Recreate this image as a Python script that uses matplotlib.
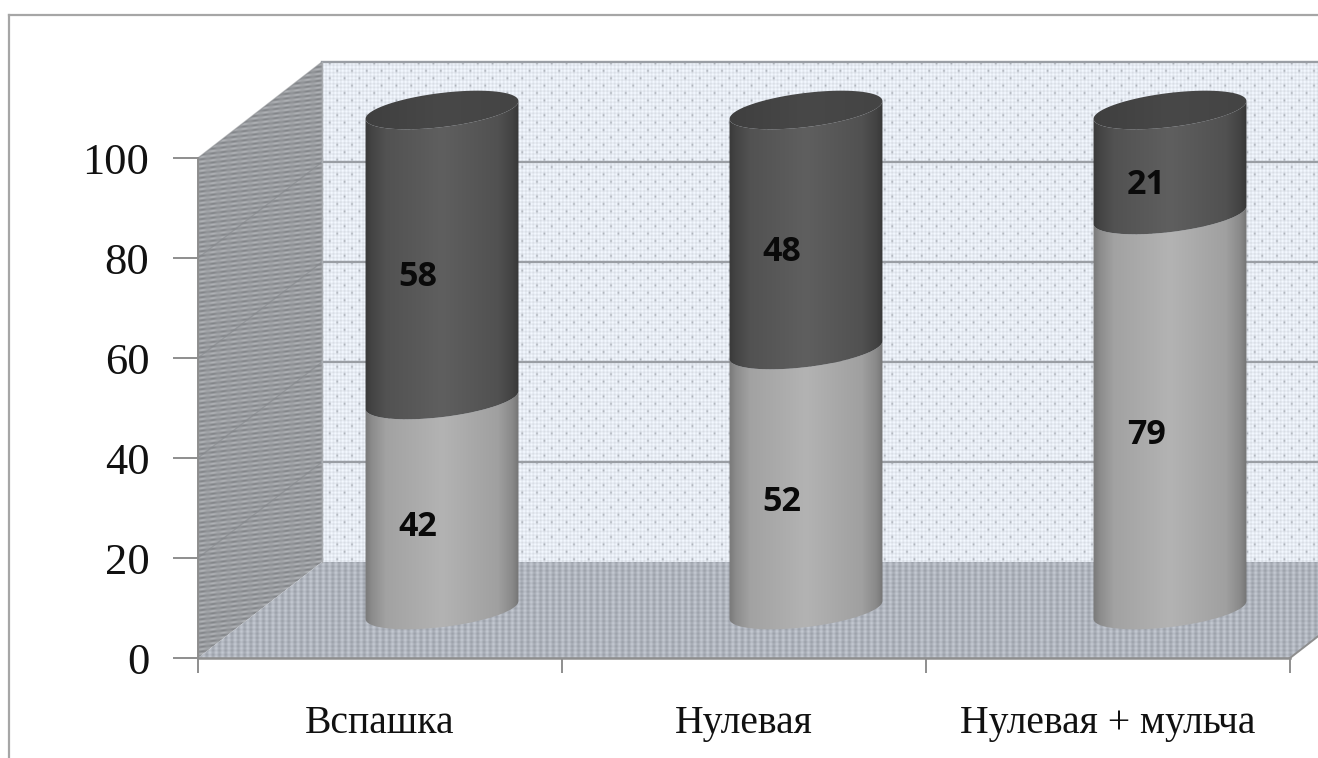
import numpy as np
import matplotlib
matplotlib.use("Agg")
import matplotlib.pyplot as plt
from matplotlib.lines import Line2D
from matplotlib.patches import PathPatch, Polygon
from matplotlib.path import Path

categories = ["Вспашка", "Нулевая", "Нулевая + мульча"]
lower_values = [42, 52, 79]
upper_values = [58, 48, 21]
y_ticks = [0, 20, 40, 60, 80, 100]

FIG_W, FIG_H = 1318, 758
LEFT, BOTTOM, RIGHT, TOP = 198, 658, 1290, 158
PX_X = (RIGHT - LEFT) / len(categories)  # pixels per category
PX_Y = (BOTTOM - TOP) / 100  # pixels per percent
DEPTH_X = 124 / PX_X
DEPTH_Y = 96 / PX_Y

RADIUS = 77
MINOR = 17
TILT = np.radians(7)

LOWER_STOPS = [0.0, 0.05, 0.14, 0.5, 0.86, 0.95, 1.0], ["#767676", "#8c8c8c", "#a2a2a2", "#b3b3b3", "#a0a0a0", "#8a8a8a", "#727272"]
UPPER_STOPS = [0.0, 0.05, 0.14, 0.5, 0.86, 0.95, 1.0], ["#383838", "#444444", "#525252", "#5f5f5f", "#515151", "#434343", "#363636"]
CAP_STOPS = [0.0, 0.5, 1.0], ["#3f3f3f", "#484848", "#444444"]
GRID = "#9a9ea4"
AXIS = "#8e8e8e"


def hex_ramp(stops, n=256):
    pos, colors = stops
    rgb = np.array([matplotlib.colors.to_rgb(c) for c in colors])
    t = np.linspace(0, 1, n)
    return np.stack([np.interp(t, pos, rgb[:, i]) for i in range(3)], axis=-1)[None, :, :]


def wall_texture(kind):
    yy, xx = np.mgrid[0:FIG_H, 0:FIG_W].astype(float)
    if kind == "back":
        lattice = np.sin(2 * np.pi * (xx + yy) / 7.4) * np.sin(2 * np.pi * (xx - yy) / 7.4)
        dots = np.clip(np.sin(2 * np.pi * xx / 14.8) * np.sin(2 * np.pi * yy / 14.8), 0, 1) ** 8
        base = np.array([0.905, 0.925, 0.955])
        img = base[None, None, :] + 0.055 * lattice[..., None] - 0.22 * dots[..., None]
    elif kind == "side":
        rows = np.sin(2 * np.pi * (yy + 0.12 * xx) / 4.6)
        cols = np.sin(2 * np.pi * xx / 10.5)
        base = np.array([0.60, 0.61, 0.625])
        img = base[None, None, :] + 0.06 * rows[..., None] + 0.03 * (rows * cols)[..., None]
    else:
        cols = np.sin(2 * np.pi * xx / 6.3)
        rows = np.sin(2 * np.pi * yy / 4.2)
        base = np.array([0.69, 0.71, 0.745])
        img = base[None, None, :] + 0.05 * cols[..., None] + 0.025 * rows[..., None]
    return np.clip(img, 0, 1)


def lower_arc(cx, cy, n=60):
    # front edge of a tilted ellipse, left to right
    t0 = np.arctan2(-MINOR * np.sin(TILT), RADIUS * np.cos(TILT))
    t = np.linspace(t0 + np.pi, t0 + 2 * np.pi, n)
    dx = RADIUS * np.cos(t) * np.cos(TILT) - MINOR * np.sin(t) * np.sin(TILT)
    dy = RADIUS * np.cos(t) * np.sin(TILT) + MINOR * np.sin(t) * np.cos(TILT)
    return cx + dx / PX_X, cy + dy / PX_Y


def full_ellipse(cx, cy, n=120):
    t = np.linspace(0, 2 * np.pi, n)
    dx = RADIUS * np.cos(t) * np.cos(TILT) - MINOR * np.sin(t) * np.sin(TILT)
    dy = RADIUS * np.cos(t) * np.sin(TILT) + MINOR * np.sin(t) * np.cos(TILT)
    return cx + dx / PX_X, cy + dy / PX_Y


def shaded(ax, xs, ys, ramp, extent):
    patch = PathPatch(Path(np.column_stack([xs, ys])), transform=ax.transData, fc="none", ec="none")
    ax.add_patch(patch)
    im = ax.imshow(ramp, extent=extent, aspect="auto", interpolation="bilinear", zorder=4)
    im.set_clip_path(patch)
    im.set_clip_box(ax.figure.bbox)


def draw_segment(ax, cx, y0, y1, stops):
    x_a, y_a = lower_arc(cx, y0)
    x_b, y_b = lower_arc(cx, y1)
    xs = np.r_[x_a, x_b[::-1]]
    ys = np.r_[y_a, y_b[::-1]]
    half = RADIUS * 1.01 / PX_X
    shaded(ax, xs, ys, hex_ramp(stops), (cx - half, cx + half, y0 - 10, y1 + 10))


plt.rcParams["font.family"] = ["Liberation Serif", "DejaVu Serif"]

fig = plt.figure(figsize=(FIG_W / 100, FIG_H / 100), dpi=100, facecolor="white")
ax = fig.add_axes([LEFT / FIG_W, (FIG_H - BOTTOM) / FIG_H, (RIGHT - LEFT) / FIG_W, (BOTTOM - TOP) / FIG_H])
ax.patch.set_visible(False)
ax.set_autoscale_on(False)
ax.set_xlim(0, len(categories))
ax.set_ylim(0, 100)

# outer chart frame
for xy in (([9, 9], [FIG_H, 15]), ([9, FIG_W], [15, 15])):
    fig.add_artist(Line2D(np.array(xy[0]) / FIG_W, 1 - np.array(xy[1]) / FIG_H, color="#a6a6a6", lw=1.6))

# extent of a full-figure texture in data coordinates
full_extent = (-LEFT / PX_X, (FIG_W - LEFT) / PX_X, (BOTTOM - FIG_H) / PX_Y, BOTTOM / PX_Y)
n = len(categories)
walls = {
    "back": [(DEPTH_X, DEPTH_Y), (n + DEPTH_X, DEPTH_Y), (n + DEPTH_X, 100 + DEPTH_Y), (DEPTH_X, 100 + DEPTH_Y)],
    "side": [(0, 0), (DEPTH_X, DEPTH_Y), (DEPTH_X, 100 + DEPTH_Y), (0, 100)],
    "floor": [(0, 0), (n, 0), (n + DEPTH_X, DEPTH_Y), (DEPTH_X, DEPTH_Y)],
}
for kind, corners in walls.items():
    poly = Polygon(corners, closed=True, fc="none", ec="none", transform=ax.transData)
    ax.add_patch(poly)
    im = ax.imshow(wall_texture(kind), extent=full_extent, aspect="auto", interpolation="bilinear", zorder=1)
    im.set_clip_path(poly)
    im.set_clip_box(fig.bbox)

# gridlines run across the side wall and along the back wall
for v in y_ticks[1:]:
    ax.plot([0, DEPTH_X], [v, v + DEPTH_Y], color="#85888c", lw=1.0, alpha=0.55, zorder=2, clip_on=False)
    ax.plot([DEPTH_X, n + DEPTH_X], [v + DEPTH_Y, v + DEPTH_Y], color=GRID, lw=1.7, zorder=2, clip_on=False)
ax.plot([DEPTH_X, DEPTH_X], [DEPTH_Y, 100 + DEPTH_Y], color="#a9acb0", lw=1.0, zorder=2, clip_on=False)
ax.plot([0, n], [0, 0], color=AXIS, lw=1.8, zorder=3, clip_on=False)
ax.plot([n, n + DEPTH_X], [0, DEPTH_Y], color=AXIS, lw=1.4, zorder=3, clip_on=False)

# cylinders
for i, (low, up) in enumerate(zip(lower_values, upper_values)):
    cx = i + 0.5 + DEPTH_X / 2
    base = DEPTH_Y / 2
    draw_segment(ax, cx, base, base + low, LOWER_STOPS)
    draw_segment(ax, cx, base + low, base + low + up, UPPER_STOPS)
    x_c, y_c = full_ellipse(cx, base + low + up)
    half = RADIUS * 1.01 / PX_X
    shaded(ax, x_c, y_c, hex_ramp(CAP_STOPS), (cx - half, cx + half, base + low + up - 6, base + low + up + 6))

    label_x = cx - 24 / PX_X
    for start, val in ((base, low), (base + low, up)):
        ax.text(label_x, start + val / 2 - 22 / PX_Y, str(val), ha="center", va="center",
                family="Open Sans", fontweight="bold", fontsize=24.5, color="#0a0a0a", zorder=6)

ax.spines[["top", "right", "bottom"]].set_visible(False)
ax.spines["left"].set_color(AXIS)
ax.spines["left"].set_linewidth(1.4)

ax.set_yticks(y_ticks)
ax.tick_params(axis="y", length=18, width=1.4, color=AXIS, pad=17, labelsize=32, labelcolor="#111111")
ax.set_xticks(range(n + 1))
ax.set_xticklabels([])
ax.tick_params(axis="x", which="major", length=10.5, width=1.4, color=AXIS)
ax.set_xticks(np.arange(n) + 0.5, minor=True)
ax.set_xticklabels(categories, minor=True)
ax.tick_params(axis="x", which="minor", length=0, pad=34, labelsize=28.5, labelcolor="#111111")

fig.savefig("out.png", dpi=100)
